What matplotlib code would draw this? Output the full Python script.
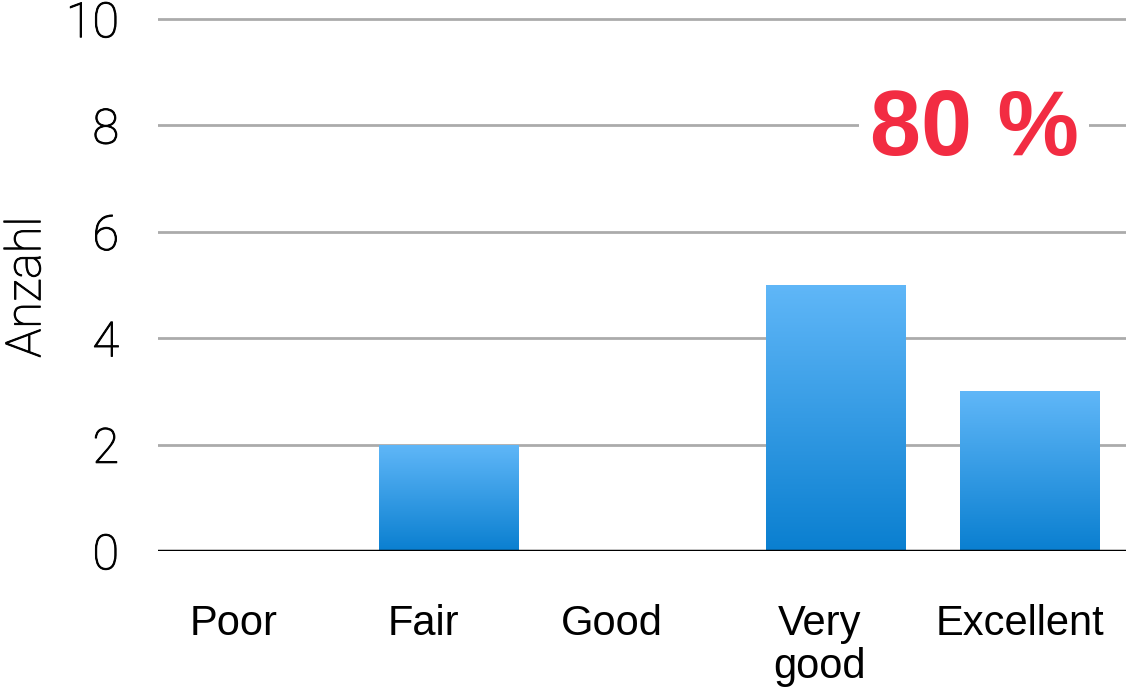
import numpy as np
import matplotlib.pyplot as plt
import matplotlib.patheffects as pe
from matplotlib.colors import LinearSegmentedColormap
from matplotlib.transforms import ScaledTranslation

# ratings and counts
categories = ["Poor", "Fair", "Good", "Very\ngood", "Excellent"]
counts = [0, 2, 0, 5, 3]
share_label = "80 %"
y_ticks = [0, 2, 4, 6, 8, 10]

# horizontal nudge of each category label, in pixels
label_nudge = [-21, -25, -30, -16, -9]

fig = plt.figure(figsize=(11.26, 6.87), dpi=100)
ax = fig.add_axes([0.1403, 0.198, 0.8597, 0.7783])

x = np.arange(len(categories))
bars = ax.bar(x, counts, width=0.72, color="none", edgecolor="none", zorder=3)

# vertical gradient inside each bar
grad = LinearSegmentedColormap.from_list("barblue", ["#0a7fd0", "#60b7f8"])
ramp = np.linspace(0, 1, 256).reshape(-1, 1)
for b in bars:
    h = b.get_height()
    if h <= 0:
        continue
    x0 = b.get_x()
    im = ax.imshow(ramp, cmap=grad, origin="lower", aspect="auto",
                   extent=(x0, x0 + b.get_width(), 0, h), zorder=3)
    im.set_clip_path(b)

ax.set_xlim(-0.5, len(categories) - 0.5)
ax.set_ylim(0, 10.05)
ax.set_yticks(y_ticks)
ax.yaxis.grid(True, color="#ababab", linewidth=2)
ax.set_axisbelow(True)
ax.axhline(0, color="black", linewidth=2.5, zorder=4)

for s in ax.spines.values():
    s.set_visible(False)

# light face, thickened a touch so it reads darker
light_edge = [pe.withStroke(linewidth=0.7, foreground="black")]

ax.tick_params(axis="y", length=0, pad=28, labelsize=35, labelcolor="black")
for lbl in ax.get_yticklabels():
    lbl.set_fontfamily("Roboto")
    lbl.set_fontweight("light")
    lbl.set_path_effects(light_edge)

ax.set_xticks(x)
ax.set_xticklabels(categories, fontsize=30, fontfamily="Liberation Sans",
                   linespacing=1.1)
ax.tick_params(axis="x", length=0, pad=38)
for lbl, dx in zip(ax.get_xticklabels(), label_nudge):
    lbl.set_transform(lbl.get_transform()
                      + ScaledTranslation(dx / 100, 0, fig.dpi_scale_trans))

fig.text(0.024, 0.582, "Anzahl", rotation=90, ha="center", va="center",
         fontsize=35, fontfamily="Roboto", fontweight="light", color="black",
         path_effects=light_edge)

ax.text(0.843, 0.786, share_label, transform=ax.transAxes, ha="center",
        va="center", fontsize=66, fontweight="bold", color="#f22c42",
        fontfamily="Liberation Sans", zorder=5,
        bbox=dict(facecolor="white", edgecolor="none", pad=8))

fig.savefig("out.png", dpi=100)
